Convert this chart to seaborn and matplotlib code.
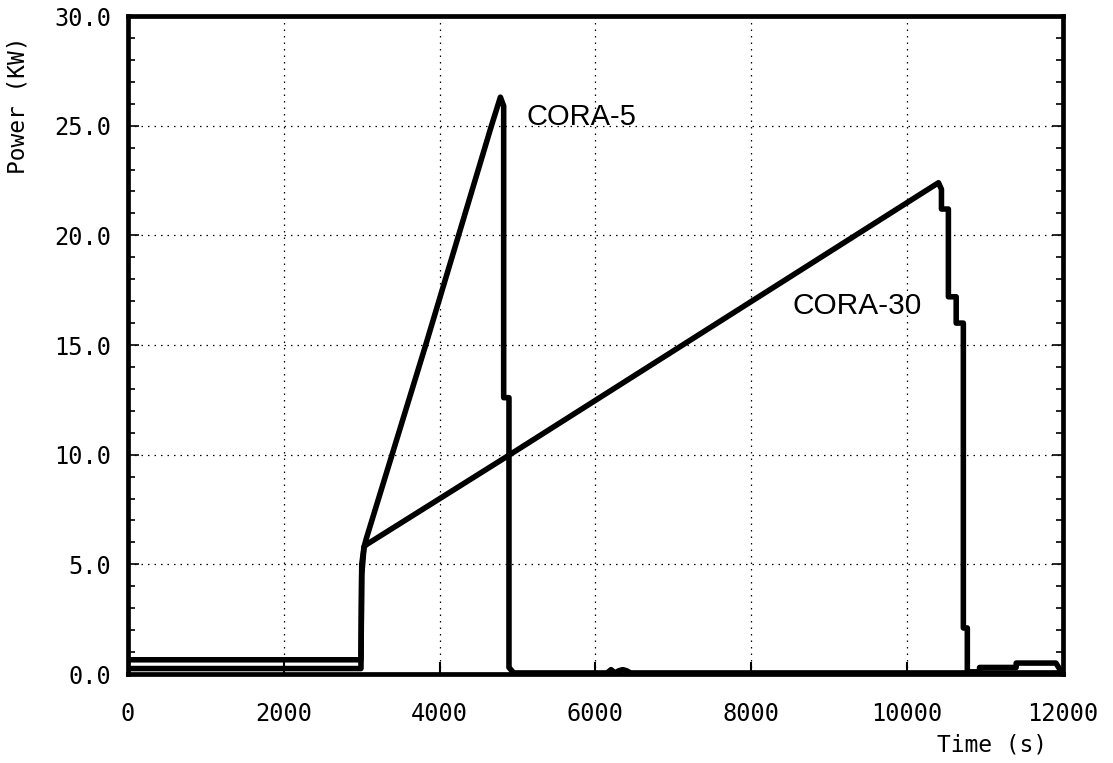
import matplotlib
matplotlib.use("Agg")
import matplotlib.pyplot as plt
import seaborn as sns
import pandas as pd
from matplotlib.ticker import MultipleLocator

# ---- data ----
cora5_time = [0, 2990, 3000, 3030, 3061, 3821, 4243, 4665, 4780, 4822,
              4822, 4890, 4890, 4950, 6150, 6200, 6250, 6300, 6350, 6400, 6450, 12000]
cora5_power = [0.25, 0.25, 4.5, 5.8, 6.2, 15.0, 20.0, 25.0, 26.3, 25.9,
               12.6, 12.6, 0.3, 0.05, 0.05, 0.2, 0.05, 0.15, 0.2, 0.15, 0.05, 0.05]

cora30_time = [0, 2990, 3000, 3030, 3060, 4900, 10403, 10441, 10441, 10530, 10530,
               10630, 10630, 10722, 10722, 10773, 10773, 10850, 10930, 10930,
               11400, 11400, 11910, 11990]
cora30_power = [0.65, 0.65, 5.0, 5.8, 5.9, 10.0, 22.4, 22.1, 21.2, 21.2, 17.2,
                17.2, 16.0, 16.0, 2.1, 2.1, 0.1, 0.1, 0.1, 0.3,
                0.3, 0.5, 0.5, 0.05]

y_ticks = [0, 5, 10, 15, 20, 25, 30]
x_ticks = [0, 2000, 4000, 6000, 8000, 10000, 12000]

labels = ["CORA-5", "CORA-30"]

sns.set_style("white")
plt.rcParams["font.family"] = ["DejaVu Sans Mono", "DejaVu Sans"]

fig = plt.figure(figsize=(11.13, 7.63), dpi=100)
ax = fig.add_axes([0.115, 0.1166, 0.84, 0.8624])

df5 = pd.DataFrame({"Time": cora5_time, "Power": cora5_power})
df30 = pd.DataFrame({"Time": cora30_time, "Power": cora30_power})

sns.lineplot(data=df5, x="Time", y="Power", ax=ax, color="black",
             linewidth=4.0, sort=False, estimator=None)
sns.lineplot(data=df30, x="Time", y="Power", ax=ax, color="black",
             linewidth=4.0, sort=False, estimator=None)

ax.set_xlim(0, 12000)
ax.set_ylim(0, 30)
ax.set_xticks(x_ticks)
ax.set_yticks(y_ticks)
ax.set_xticklabels([str(v) for v in x_ticks])
ax.set_yticklabels([f"{v:.1f}" for v in y_ticks])
ax.yaxis.set_minor_locator(MultipleLocator(1))

ax.grid(True, which="major", color="black", linestyle=(0, (1.2, 4)), linewidth=0.9)

for s in ax.spines.values():
    s.set_visible(True)
    s.set_color("black")
    s.set_linewidth(3.4)

ax.tick_params(axis="both", which="both", direction="in", colors="black",
               labelsize=17)
ax.tick_params(axis="y", which="both", left=True, right=True, width=1.2)
ax.tick_params(axis="y", which="major", length=8, pad=12)
ax.tick_params(axis="y", which="minor", length=5)
ax.tick_params(axis="x", which="major", bottom=True, length=9, width=1.5, pad=20)

ax.set_xlabel("")
ax.set_ylabel("")

ax.text(5112, 25.4, labels[0], family="Liberation Sans", fontsize=21,
        va="center", ha="left", color="black")
ax.text(8524, 16.8, labels[1], family="Liberation Sans", fontsize=21.5,
        va="center", ha="left", color="black")

fig.text(18 / 1113, 1 - 105 / 763, "Power (KW)", rotation=90, fontsize=16.5,
         ha="center", va="center", color="black")
fig.text(992 / 1113, 1 - 745 / 763, "Time (s)", fontsize=16.5,
         ha="center", va="center", color="black")

fig.savefig("out.png", dpi=100, facecolor="white")
